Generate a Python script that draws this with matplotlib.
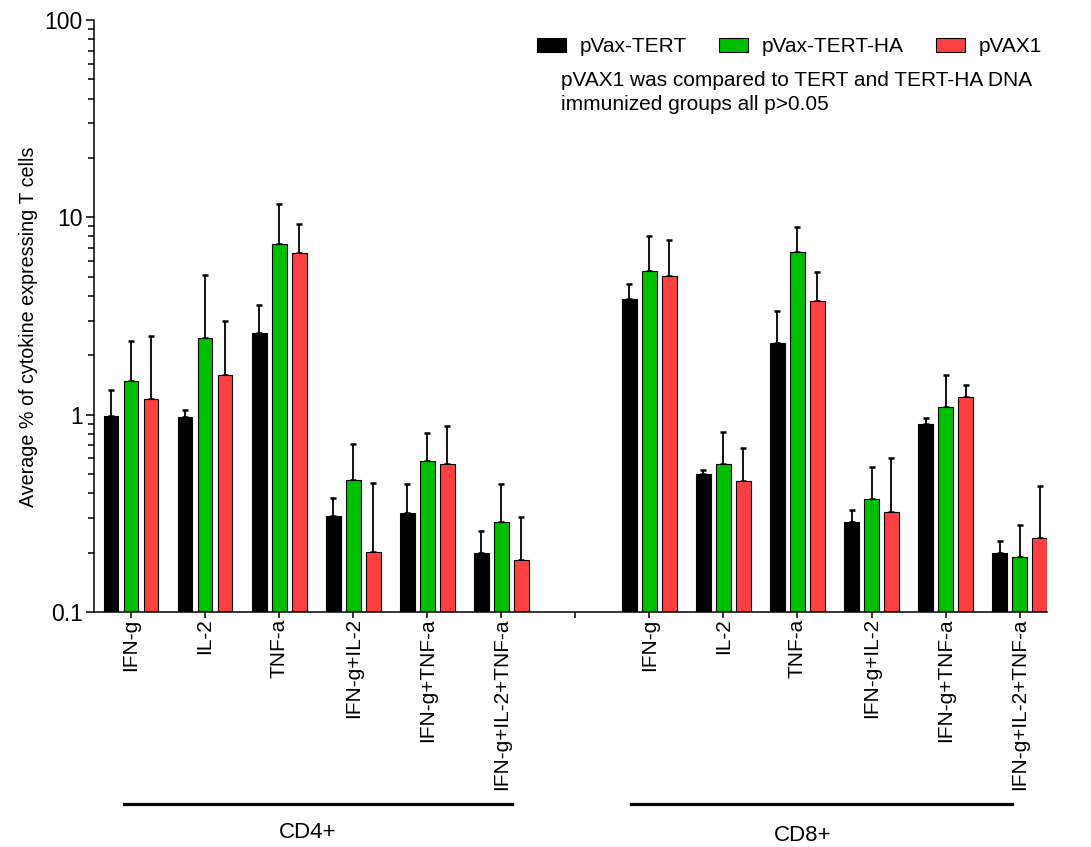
import numpy as np
import matplotlib
matplotlib.use("Agg")
import matplotlib.pyplot as plt
from matplotlib.lines import Line2D
from matplotlib.ticker import LogLocator, NullFormatter, FixedLocator, FixedFormatter

plt.rcParams["font.family"] = ["Liberation Sans", "DejaVu Sans"]

# datos: 6 citoquinas CD4+ y luego 6 CD8+
cytokines = ["IFN-g", "IL-2", "TNF-a", "IFN-g+IL-2", "IFN-g+TNF-a", "IFN-g+IL-2+TNF-a"]
groups = ["CD4+", "CD8+"]
series = ["pVax-TERT", "pVax-TERT-HA", "pVAX1"]

tert = [0.99, 0.97, 2.59, 0.306, 0.318, 0.199,
        3.85, 0.498, 2.30, 0.285, 0.90, 0.199]
tert_ha = [1.48, 2.45, 7.29, 0.468, 0.583, 0.285,
           5.32, 0.562, 6.70, 0.375, 1.09, 0.189]
vax1 = [1.20, 1.59, 6.62, 0.202, 0.564, 0.183,
        5.06, 0.459, 3.75, 0.323, 1.23, 0.236]

tert_err = [0.34, 0.08, 1.00, 0.07, 0.127, 0.057,
            0.77, 0.024, 1.07, 0.042, 0.06, 0.029]
tert_ha_err = [0.88, 2.67, 4.41, 0.246, 0.221, 0.16,
               2.72, 0.251, 2.20, 0.165, 0.49, 0.087]
vax1_err = [1.30, 1.41, 2.67, 0.251, 0.316, 0.121,
            2.61, 0.215, 1.55, 0.277, 0.18, 0.197]

colores = ["#000000", "#00BE00", "#FF4040"]

fig = plt.figure(figsize=(10.91, 8.47), dpi=100)
ax = fig.add_axes([94 / 1091, 1 - 612 / 847, (1047 - 94) / 1091, (612 - 20) / 847])

# posiciones: hueco en el slot 6 entre CD4+ y CD8+
slots = np.array(list(range(6)) + list(range(7, 13)))
ancho = 0.2
paso = 0.27

for i, (vals, errs, col, lab) in enumerate(zip([tert, tert_ha, vax1],
                                                [tert_err, tert_ha_err, vax1_err],
                                                colores, series)):
    x = slots + (i - 1) * paso
    ax.bar(x, vals, width=ancho, color=col, edgecolor="black",
           linewidth=0.8, label=lab, zorder=2)
    ax.errorbar(x, vals, yerr=[np.zeros(len(vals)), errs], fmt="none",
                ecolor="black", elinewidth=1.3, capsize=2.5, capthick=1.8, zorder=1)

ax.set_yscale("log")
ax.set_ylim(0.1, 100)
ax.set_xlim(-0.5, 12.37)

ax.yaxis.set_major_locator(FixedLocator([0.1, 1, 10, 100]))
ax.yaxis.set_major_formatter(FixedFormatter(["0.1", "1", "10", "100"]))
ax.yaxis.set_minor_locator(LogLocator(base=10, subs=np.arange(2, 10)))
ax.yaxis.set_minor_formatter(NullFormatter())

tick_pos = list(range(13))
tick_lab = cytokines + [""] + cytokines
ax.set_xticks(tick_pos)
ax.set_xticklabels(tick_lab, rotation=90, fontsize=15)
ax.tick_params(axis="y", which="major", length=6, width=1.1, labelsize=16.5, pad=2)
ax.tick_params(axis="y", which="minor", length=4, width=1.1)
ax.tick_params(axis="x", length=4, width=1.1, pad=0.5)

# quitar bordes
ax.spines["top"].set_visible(False)
ax.spines["right"].set_visible(False)
ax.spines["left"].set_linewidth(1.1)
ax.spines["bottom"].set_linewidth(1.1)

ax.set_ylabel("Average % of cytokine expressing T cells", fontsize=14.2)
ax.yaxis.set_label_coords(-0.059, 0.481)

# lineas de grupo CD4+ / CD8+
trans = ax.get_xaxis_transform()
for (x0, x1), g, xc, yt in zip([(-0.1, 5.15), (6.75, 11.9)], groups,
                               [2.39, 9.07], [-0.372, -0.378]):
    ax.add_line(Line2D([x0, x1], [-0.324, -0.324], transform=trans,
                       color="black", linewidth=2.3, clip_on=False))
    ax.text(xc, yt, g, transform=trans, ha="center", va="center", fontsize=16)

ax.legend(loc="center right", bbox_to_anchor=(1042 / 1091, 1 - 47 / 847),
          bbox_transform=fig.transFigure, ncol=3, frameon=False, fontsize=15,
          handlelength=1.4, handleheight=0.62, handletextpad=0.65,
          columnspacing=1.55, borderpad=0, borderaxespad=0)

fig.text(561 / 1091, 1 - 71 / 847,
         "pVAX1 was compared to TERT and TERT-HA DNA\nimmunized groups all p>0.05",
         ha="left", va="top", fontsize=15, linespacing=1.3)

plt.savefig("out.png", dpi=100)
plt.close()
